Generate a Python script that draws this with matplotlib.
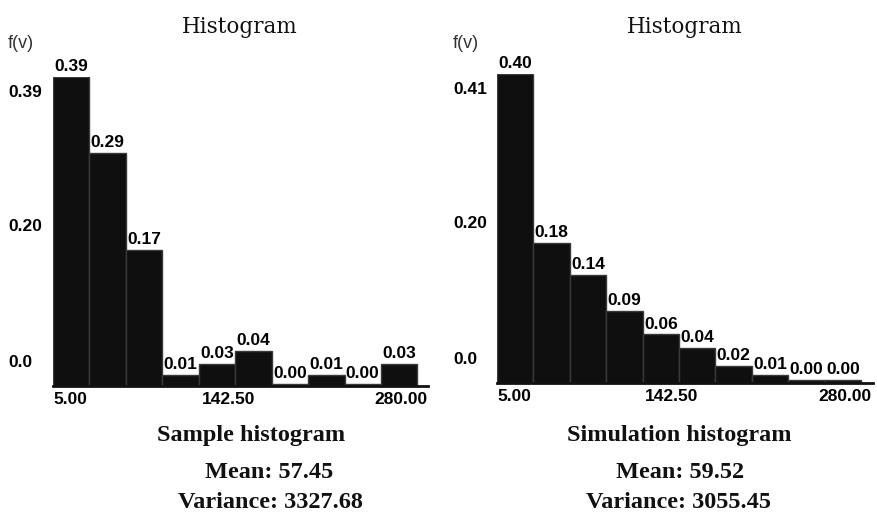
import matplotlib
matplotlib.use("Agg")
import matplotlib.pyplot as plt
import matplotlib.transforms as mtransforms

# ---- data ----
bin_start = 5.0
bin_width = 27.5
sample_values = [0.39, 0.294, 0.172, 0.014, 0.028, 0.044, 0.003, 0.014, 0.003, 0.028]
sim_values = [0.40, 0.181, 0.140, 0.093, 0.063, 0.045, 0.022, 0.010, 0.004, 0.004]
sample_yticklabels = ["0.39", "0.20", "0.0"]
sim_yticklabels = ["0.41", "0.20", "0.0"]
xtick_values = [5.0, 142.5, 280.0]
xtick_labels = ["5.00", "142.50", "280.00"]
sample_caption = ["Sample histogram", "Mean: 57.45", "Variance: 3327.68"]
sim_caption = ["Simulation histogram", "Mean: 59.52", "Variance: 3055.45"]

W, H = 877, 516
fig = plt.figure(figsize=(W / 100, H / 100), dpi=100)

SANS_B = dict(family="Liberation Sans", weight="bold", size=12.5)

def px(x0, y0, w, h):
    return [x0 / W, 1 - (y0 + h) / H, w / W, h / H]

def panel(rect, values, yticklabels, xmax, label_pad_px):
    ax = fig.add_axes(rect)
    n = len(values)
    lefts = [bin_start + i * bin_width for i in range(n)]
    ax.bar(lefts, values, width=bin_width, align="edge",
           color="#0f0f0f", edgecolor="#3a3a3a", linewidth=1.0, zorder=2)
    ymax = max(values)
    ax.set_xlim(bin_start, xmax)
    ax.set_ylim(0, ymax)
    for s in ["top", "right", "left"]:
        ax.spines[s].set_visible(False)
    ax.spines["bottom"].set_linewidth(2.0)
    ax.spines["bottom"].set_color("#111111")
    ax.spines["bottom"].set_zorder(3)
    # value labels
    for l, v in zip(lefts, values):
        ax.annotate(f"{v:.2f}", (l + bin_width / 2, v), xytext=(0, 2),
                    textcoords="offset points", ha="center", va="bottom",
                    annotation_clip=False, **SANS_B)
    # y tick labels
    fracs = [0.955, 0.52, 0.08]
    ax.set_yticks([f * ymax for f in fracs])
    ax.set_yticklabels(yticklabels)
    ax.tick_params(axis="y", length=0, pad=label_pad_px * 0.72)
    for t in ax.get_yticklabels():
        t.set_ha("left")
        t.set_fontproperties(matplotlib.font_manager.FontProperties(**SANS_B))
    # x tick labels
    ax.set_xticks(xtick_values)
    ax.set_xticklabels(xtick_labels)
    ax.tick_params(axis="x", length=0, pad=4)
    offsets = [0, -7, 10]
    aligns = ["left", "center", "right"]
    for t, off, al in zip(ax.get_xticklabels(), offsets, aligns):
        t.set_ha(al)
        t.set_fontproperties(matplotlib.font_manager.FontProperties(**SANS_B))
        t.set_transform(t.get_transform() + mtransforms.ScaledTranslation(off / 100, 0, fig.dpi_scale_trans))
    return ax

ax1 = panel(px(53, 77, 375, 309), sample_values, sample_yticklabels, 288, 45)
ax2 = panel(px(497, 74, 376, 309), sim_values, sim_yticklabels, 289, 44)

# titles
for xc in (240, 685):
    fig.text(xc / W, 1 - 27 / H, "Histogram", ha="center", va="center",
             family="DejaVu Serif", size=15.5, color="#111111")
for xl in (8, 453):
    fig.text(xl / W, 1 - 43 / H, "f(v)", ha="left", va="center",
             family="Liberation Sans", size=13, color="#333333")

# captions
ys = [435, 472, 503]
for lines, xs in ((sample_caption, (251, 269, 270)), (sim_caption, (679, 680, 678))):
    for txt, xc, yc in zip(lines, xs, ys):
        fig.text(xc / W, 1 - yc / H, txt, ha="center", va="center",
                 family="Liberation Serif", weight="bold", size=17.5, color="#111111")

fig.savefig("out.png", dpi=100)
